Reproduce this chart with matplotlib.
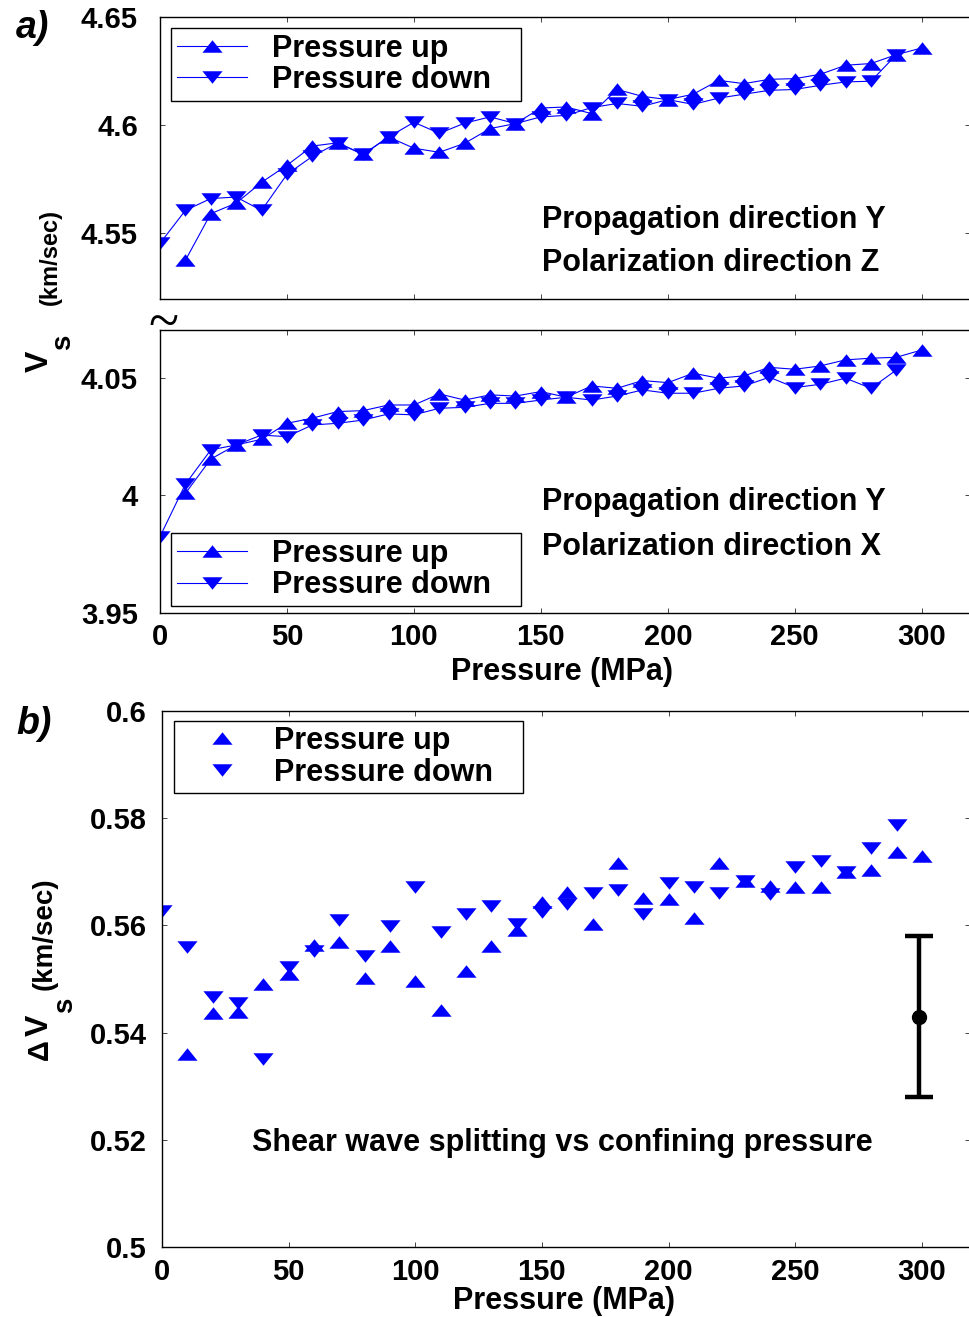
import matplotlib

matplotlib.use("Agg")
import matplotlib.pyplot as plt

plt.rcParams["font.family"] = ["Liberation Sans", "DejaVu Sans"]
plt.rcParams["font.weight"] = "bold"

# pressures (MPa)
p_up = [10, 20, 30, 40, 50, 60, 70, 80, 90, 100, 110, 120, 130, 140, 150,
        160, 170, 180, 190, 200, 210, 220, 230, 240, 250, 260, 270, 280, 290, 300]
p_down = [0, 10, 20, 30, 40, 50, 60, 70, 80, 90, 100, 110, 120, 130, 140,
          150, 160, 170, 180, 190, 200, 210, 220, 230, 240, 250, 260, 270, 280, 290]

# propagation Y, polarization Z
vz_up = [4.5375, 4.5591, 4.5640, 4.5736, 4.5815, 4.5904, 4.5919, 4.5865, 4.5946, 4.5894,
         4.5875, 4.5917, 4.5985, 4.6008, 4.6080, 4.6085, 4.6054, 4.6166, 4.6134, 4.6119,
         4.6144, 4.6208, 4.6193, 4.6213, 4.6216, 4.6236, 4.6278, 4.6286, 4.6327, 4.6358]
vz_down = [4.5454, 4.5606, 4.5661, 4.5668, 4.5606, 4.5773, 4.5856, 4.5919, 4.5865, 4.5946,
           4.6014, 4.5963, 4.6010, 4.6039, 4.6008, 4.6039, 4.6046, 4.6082, 4.6101, 4.6088,
           4.6119, 4.6097, 4.6126, 4.6144, 4.6162, 4.6166, 4.6185, 4.6201, 4.6204, 4.6327]

# propagation Y, polarization X
vx_up = [4.0009, 4.0155, 4.0215, 4.0239, 4.0307, 4.0329, 4.0357, 4.0361, 4.0385, 4.0385,
         4.0432, 4.0406, 4.0428, 4.0423, 4.0442, 4.0418, 4.0466, 4.0456, 4.0489, 4.0480,
         4.0520, 4.0499, 4.0509, 4.0545, 4.0537, 4.0551, 4.0577, 4.0584, 4.0588, 4.0619]
vx_down = [3.9825, 4.0048, 4.0194, 4.0215, 4.0257, 4.0250, 4.0300, 4.0307, 4.0321, 4.0347,
           4.0343, 4.0371, 4.0375, 4.0392, 4.0392, 4.0406, 4.0418, 4.0406, 4.0423, 4.0449,
           4.0435, 4.0435, 4.0456, 4.0466, 4.0503, 4.0459, 4.0473, 4.0499, 4.0456, 4.0534]

# shear wave splitting
dv_up = [0.5361, 0.5436, 0.5439, 0.5490, 0.5510, 0.5564, 0.5569, 0.5502, 0.5561, 0.5497,
         0.5443, 0.5514, 0.5561, 0.5592, 0.5644, 0.5662, 0.5602, 0.5716, 0.5652, 0.5649,
         0.5614, 0.5716, 0.5682, 0.5673, 0.5672, 0.5672, 0.5700, 0.5703, 0.5737, 0.5729]
dv_down = [0.5627, 0.5559, 0.5467, 0.5455, 0.5350, 0.5522, 0.5552, 0.5610, 0.5542, 0.5599,
           0.5672, 0.5588, 0.5622, 0.5637, 0.5602, 0.5625, 0.5640, 0.5660, 0.5666, 0.5621,
           0.5680, 0.5672, 0.5660, 0.5682, 0.5658, 0.5709, 0.5720, 0.5700, 0.5745, 0.5787]

err_p = [299]
err_v = [0.543]
err_half = [0.015]

x_ticks = [0, 50, 100, 150, 200, 250, 300]
x_labels = ["0", "50", "100", "150", "200", "250", "300"]
z_ticks = [4.55, 4.6, 4.65]
z_labels = ["4.55", "4.6", "4.65"]
x_pol_ticks = [3.95, 4.0, 4.05]
x_pol_labels = ["3.95", "4", "4.05"]
dv_ticks = [0.5, 0.52, 0.54, 0.56, 0.58, 0.6]
dv_labels = ["0.5", "0.52", "0.54", "0.56", "0.58", "0.6"]

W, H = 969, 1317
BLUE = "#0000ff"
TRI_UP = [(-1, -0.62), (1, -0.62), (0, 0.62), (-1, -0.62)]
TRI_DOWN = [(-1, 0.62), (1, 0.62), (0, -0.62), (-1, 0.62)]


def px_axes(fig, left, top, right, bottom):
    return fig.add_axes([left / W, 1 - bottom / H, (right - left) / W, (bottom - top) / H])


def px_text(fig, x, y, s, **kw):
    return fig.text(x / W, 1 - y / H, s, **kw)


def style_axes(ax, ylim, yticks, ylabels, ypad, show_xlabels):
    ax.set_xlim(0, 319)
    ax.set_ylim(*ylim)
    ax.set_xticks(x_ticks)
    ax.set_xticklabels(x_labels if show_xlabels else [])
    ax.set_yticks(yticks)
    ax.set_yticklabels(ylabels)
    ax.tick_params(direction="in", length=3.6, width=0.7, color="#444444",
                   top=True, right=True, labelsize=21)
    ax.tick_params(axis="y", pad=ypad)
    ax.tick_params(axis="x", pad=7)
    for spine in ax.spines.values():
        spine.set_linewidth(1.0)


def add_legend(ax, handles, x0, ytop, width, handlelength, handletextpad):
    leg = ax.legend(handles, ["Pressure up", "Pressure down"], loc="upper left",
                    bbox_to_anchor=(x0, ytop - 0.1, width, 0.1), mode="expand",
                    borderaxespad=0, fancybox=False,
                    edgecolor="black", framealpha=1, prop={"size": 22, "weight": "bold"},
                    handlelength=handlelength, handletextpad=handletextpad,
                    borderpad=0.18, labelspacing=0.05)
    leg.get_frame().set_linewidth(1.0)
    return leg


fig = plt.figure(figsize=(W / 100, H / 100), dpi=100)

line_kw = dict(color=BLUE, lw=0.8, markersize=14.5, markeredgewidth=0,
               markerfacecolor=BLUE)

# panel a, top
ax1 = px_axes(fig, 160, 17.3, 970, 299)
h_up, = ax1.plot(p_up, vz_up, marker=TRI_UP, **line_kw)
h_dn, = ax1.plot(p_down, vz_down, marker=TRI_DOWN, **line_kw)
style_axes(ax1, (4.5196, 4.65), z_ticks, z_labels, 16, False)
add_legend(ax1, [h_up, h_dn], 0.0136, 0.962, 0.4317, 2.3, 0.82)

# panel a, middle
ax2 = px_axes(fig, 160, 330, 970, 613)
h_up, = ax2.plot(p_up, vx_up, marker=TRI_UP, **line_kw)
h_dn, = ax2.plot(p_down, vx_down, marker=TRI_DOWN, **line_kw)
style_axes(ax2, (3.95, 4.0704), x_pol_ticks, x_pol_labels, 16, True)
add_legend(ax2, [h_up, h_dn], 0.0136, 0.2816, 0.4317, 2.3, 0.82)

# panel b
ax3 = px_axes(fig, 162, 711, 970, 1247)
h_up, = ax3.plot(p_up, dv_up, marker=TRI_UP, ls="none", **line_kw)
h_dn, = ax3.plot(p_down, dv_down, marker=TRI_DOWN, ls="none", **line_kw)
ax3.errorbar(err_p, err_v, yerr=err_half, fmt="o", color="black", markersize=10,
             elinewidth=3.2, capsize=10, capthick=3.2)
style_axes(ax3, (0.5, 0.6), dv_ticks, dv_labels, 11, True)
ax3.tick_params(axis="x", pad=8)
add_legend(ax3, [h_up, h_dn], 0.0149, 0.982, 0.4316, 2.8, 0.3)

# text annotations
txt = dict(fontsize=22, fontweight="bold", va="baseline", ha="left")
px_text(fig, 542, 228, "Propagation direction Y", **txt)
px_text(fig, 542, 271, "Polarization direction Z", **txt)
px_text(fig, 542, 510, "Propagation direction Y", **txt)
px_text(fig, 542, 555, "Polarization direction X", **txt)
px_text(fig, 252, 1151, "Shear wave splitting vs confining pressure", **txt)

px_text(fig, 562, 680, "Pressure (MPa)", fontsize=22, fontweight="bold",
        ha="center", va="baseline")
px_text(fig, 564, 1309, "Pressure (MPa)", fontsize=22, fontweight="bold",
        ha="center", va="baseline")

# y labels built from pieces (big V, subscript s, smaller units)
rot = dict(rotation=90, ha="center", va="center", fontweight="bold")
px_text(fig, 40, 361, "V", fontsize=23, **rot)
px_text(fig, 63, 342, "s", fontsize=20, **rot)
px_text(fig, 50, 257, "(km/sec)", fontsize=17, **rot)

px_text(fig, 40, 1050, "Δ", fontsize=21, **rot)
px_text(fig, 40, 1025, "V", fontsize=23, **rot)
px_text(fig, 65, 1005, "s", fontsize=20, **rot)
px_text(fig, 45, 934, "(km/sec)", fontsize=20, **rot)

# panel letters and axis-break mark
px_text(fig, 33, 28, "a)", fontsize=27, fontweight="bold", fontstyle="italic",
        ha="center", va="center")
px_text(fig, 34, 724, "b)", fontsize=27, fontweight="bold", fontstyle="italic",
        ha="center", va="center")
px_text(fig, 163, 325, "~", fontsize=40, family="Liberation Serif",
        fontweight="normal", ha="center", va="center")

fig.savefig("out.png", dpi=100)
